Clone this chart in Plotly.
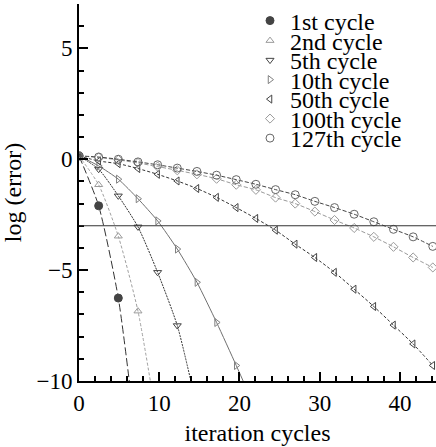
import plotly.graph_objects as go

# Iteration positions of the sampled points (shared by every series)
iters = [0, 2.45, 4.9, 7.35, 9.8, 12.25, 14.7, 17.15, 19.6, 22.05,
         24.5, 26.95, 29.4, 31.85, 34.3, 36.75, 39.2, 41.65, 44.1]

# log(error) per multigrid cycle
err_c1 = [0.15, -2.1, -6.26, -13.3]
err_c2 = [0.15, -1.15, -3.47, -6.85, -12.0]
err_c5 = [0.15, -0.45, -1.65, -3.05, -5.1, -7.5, -11.2]
err_c10 = [0.15, -0.3, -0.9, -1.78, -2.78, -4.05, -5.55, -7.36, -9.3, -11.3]
err_c50 = [0.15, -0.08, -0.2, -0.42, -0.68, -0.98, -1.32, -1.72, -2.18, -2.67,
           -3.2, -3.83, -4.43, -5.1, -5.86, -6.64, -7.48, -8.33, -9.3]
err_c100 = [0.15, 0.08, -0.03, -0.17, -0.33, -0.5, -0.68, -0.88, -1.15, -1.38,
            -1.73, -2.0, -2.36, -2.74, -3.1, -3.5, -3.95, -4.43, -4.88]
err_c127 = [0.15, 0.1, 0.0, -0.12, -0.25, -0.4, -0.55, -0.72, -0.92, -1.13,
            -1.37, -1.6, -1.9, -2.18, -2.48, -2.82, -3.16, -3.5, -3.93]

names = ["1st cycle", "2nd cycle", "5th cycle", "10th cycle",
         "50th cycle", "100th cycle", "127th cycle"]
series = [err_c1, err_c2, err_c5, err_c10, err_c50, err_c100, err_c127]

# tolerance level drawn as a horizontal reference line
tolerance = -3

x_ticks = [0, 10, 20, 30, 40]
y_ticks = [-10, -5, 0, 5]

FONT = "Liberation Serif, Times New Roman, serif"

styles = [
    dict(sym="circle", size=8, mcol="#444444", lcol="#333333", dash="8px,3px"),
    dict(sym="triangle-up-open", size=7, mcol="#9a9a9a", lcol="#a0a0a0", dash="3px,2px"),
    dict(sym="triangle-down-open", size=7, mcol="#444444", lcol="#333333", dash="2px,1px"),
    dict(sym="triangle-right-open", size=7, mcol="#808080", lcol="#707070", dash="solid"),
    dict(sym="triangle-left-open", size=7, mcol="#444444", lcol="#333333", dash="3px,2px"),
    dict(sym="diamond-open", size=7, mcol="#9a9a9a", lcol="#999999", dash="4px,2px"),
    dict(sym="circle-open", size=8, mcol="#666666", lcol="#444444", dash="4px,2px"),
]

W, H = 436, 447
M_L, M_R, M_T, M_B = 79, 0, 4, 66
plot_h = H - M_T - M_B

fig = go.Figure()

for i, (name, ys, st) in enumerate(zip(names, series, styles)):
    xs = iters[:len(ys)]
    fig.add_trace(go.Scatter(
        x=xs, y=ys, mode="lines", showlegend=False, hoverinfo="skip",
        line=dict(color=st["lcol"], width=1, dash=st["dash"], shape="spline", smoothing=0.6),
    ))
    legend_id = "legend" if i == 0 else f"legend{i + 1}"
    fig.add_trace(go.Scatter(
        x=xs, y=ys, mode="markers", name=name, legend=legend_id,
        marker=dict(symbol=st["sym"], size=st["size"], color=st["mcol"],
                    line=dict(width=1, color=st["mcol"])),
    ))

fig.add_hline(y=tolerance, line=dict(color="#333333", width=1))

# one single-entry legend per series so rows can sit close together
row_px = [21, 41, 60.5, 80, 99.5, 119, 138.5]
legend_x = (250 - M_L) / (W - M_L - M_R)
layout_legends = {}
for i, py in enumerate(row_px):
    key = "legend" if i == 0 else f"legend{i + 1}"
    layout_legends[key] = dict(
        x=legend_x, xanchor="left",
        y=1 - (py - M_T) / plot_h, yanchor="middle",
        bgcolor="rgba(0,0,0,0)", borderwidth=0,
        font=dict(family=FONT, size=24, color="black"),
        itemclick=False, itemdoubleclick=False,
    )

fig.update_layout(
    width=W, height=H,
    margin=dict(l=M_L, r=M_R, t=M_T, b=M_B, autoexpand=False),
    paper_bgcolor="white", plot_bgcolor="white",
    font=dict(family=FONT, size=23, color="black"),
    **layout_legends,
)

fig.update_xaxes(
    range=[0, 44.5], showgrid=False, zeroline=False,
    showline=True, linecolor="black", linewidth=2,
    tickmode="array", tickvals=x_ticks, ticktext=[str(v) for v in x_ticks],
    ticks="inside", ticklen=9, tickwidth=2, tickcolor="black",
    minor=dict(dtick=2, tick0=0, ticks="inside", ticklen=5, tickwidth=1.5, tickcolor="black"),
    tickfont=dict(family=FONT, size=23),
    title=dict(text="iteration cycles", font=dict(family=FONT, size=24), standoff=10),
)
fig.update_yaxes(
    range=[-10, 7], showgrid=False, zeroline=False,
    showline=True, linecolor="black", linewidth=2,
    tickmode="array", tickvals=y_ticks, ticktext=["\u221210", "\u22125", "0", "5"],
    ticks="inside", ticklen=9, tickwidth=2, tickcolor="black",
    minor=dict(dtick=1, tick0=0, ticks="inside", ticklen=5, tickwidth=1.5, tickcolor="black"),
    tickfont=dict(family=FONT, size=23),
    title=dict(text="log (error)", font=dict(family=FONT, size=24), standoff=8),
)

fig.write_html("out.html")
